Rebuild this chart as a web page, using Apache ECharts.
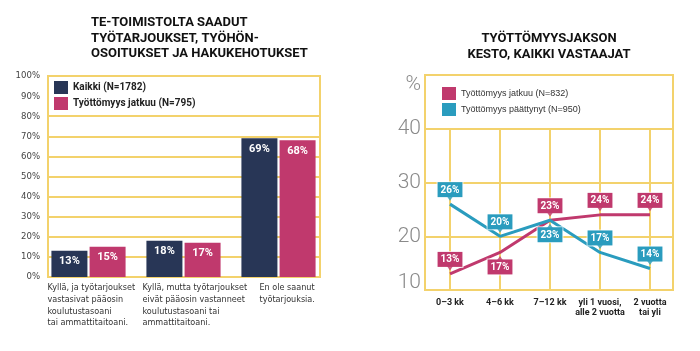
<!DOCTYPE html>
<html><head><meta charset="utf-8">
<script src="https://cdn.jsdelivr.net/npm/echarts@6/dist/echarts.min.js"></script>
<style>html,body{margin:0;padding:0;background:#fff}#c{width:700px;height:351px}</style>
</head><body><div id="c"></div>
<script>
// ---- data ----
const barCategories = [
  'Kyllä, ja työtarjoukset\nvastasivat pääosin\nkoulutustasoani\ntai ammattitaitoani.',
  'Kyllä, mutta työtarjoukset\neivät pääosin vastanneet\nkoulutustasoani tai\nammattitaitoani.',
  'En ole saanut\ntyötarjouksia.'
];
const kaikki = [13, 18, 69];
const jatkuuBar = [15, 17, 68];
const barSeriesNames = ['Kaikki (N=1782)', 'Työttömyys jatkuu (N=795)'];

const durationCats = ['0–3 kk', '4–6 kk', '7–12 kk', 'yli 1 vuosi,\nalle 2 vuotta', '2 vuotta\ntai yli'];
const jatkuuLine = [13, 17, 23, 24, 24];
const paattynytLine = [26, 20, 23, 17, 14];
const lineSeriesNames = ['Työttömyys jatkuu (N=832)', 'Työttömyys päättynyt (N=950)'];
const jatkuuLabelSide = ['top', 'bottom', 'top', 'top', 'top'];
const paattynytLabelSide = ['top', 'top', 'bottom', 'top', 'top'];

// ---- style ----
const NAVY = '#283656', PINK = '#c0396d', BLUE = '#2a9cbe', YEL = '#f3d26c';
const COND = "'DejaVu Sans Condensed', 'Liberation Sans', sans-serif";
const chart = echarts.init(document.getElementById('c'));

function pctLabel(color) {
  return {
    show: true, formatter: p => p.value + '%', color: '#fff', fontWeight: 'bold',
    fontSize: 10, fontFamily: 'Roboto', backgroundColor: color, padding: [3, 3, 2, 3],
    borderColor: 'rgba(255,255,255,0.7)', borderWidth: 1, distance: 7
  };
}
function lineData(vals, sides) {
  return vals.map((v, i) => ({ value: v, label: { position: sides[i] } }));
}
function pointerData(vals, sides) {
  return vals.map((v, i) => ({
    value: v,
    symbolRotate: sides[i] === 'top' ? 180 : 0,
    symbolOffset: [0, sides[i] === 'top' ? -6 : 6]
  }));
}
const leftGridSplit = [];
for (let i = 0; i <= 10; i++) leftGridSplit.push(i === 9 ? 'rgba(0,0,0,0)' : YEL);
const catTxt = { fontFamily: COND, fontSize: 9, lineHeight: 11.7, color: '#333' };

chart.setOption({
  animation: false,
  title: [
    { text: 'TE-TOIMISTOLTA SAADUT\nTYÖTARJOUKSET, TYÖHÖN-\nOSOITUKSET JA HAKUKEHOTUKSET', left: 91, top: 15, padding: 0,
      textStyle: { fontFamily: 'Roboto', fontWeight: 'bold', fontSize: 13, lineHeight: 15.5, color: '#111' } },
    { text: 'TYÖTTÖMYYSJAKSON\nKESTO, KAIKKI VASTAAJAT', left: 549, textAlign: 'center', top: 31, padding: 0,
      textStyle: { fontFamily: 'Roboto', fontWeight: 'bold', fontSize: 13, lineHeight: 15.5, color: '#111', align: 'center' } }
  ],
  legend: [
    { data: barSeriesNames, orient: 'vertical', left: 54, top: 81, itemWidth: 14, itemHeight: 13, itemGap: 3, icon: 'rect', padding: 0,
      textStyle: { fontFamily: 'Roboto', fontWeight: 'bold', fontSize: 10, color: '#222' } },
    { data: lineSeriesNames, orient: 'vertical', left: 442, top: 87, itemWidth: 14, itemHeight: 13, itemGap: 3, icon: 'rect', padding: 0,
      textStyle: { fontFamily: 'Liberation Sans', fontSize: 9, color: '#333' } }
  ],
  grid: [
    { left: 48, top: 76, width: 272, height: 201, show: true, borderColor: YEL, borderWidth: 2 },
    { left: 41, top: 76, width: 285, height: 201 },
    { left: 425, top: 75, width: 248, height: 215, show: true, borderColor: YEL, borderWidth: 2 },
    { left: 450, top: 129, width: 200, height: 161 }
  ],
  xAxis: [
    { gridIndex: 0, type: 'category', data: barCategories, show: false },
    { gridIndex: 1, type: 'category', data: barCategories,
      axisLine: { show: false }, axisTick: { show: false },
      axisLabel: { align: 'left', padding: [0, 0, 0, -41], margin: 5, interval: 0, ...catTxt,
        formatter: (v, i) => v.split('\n').map(l => `{${i === 2 ? 'c' : 'a'}|${l}}`).join('\n'),
        rich: { a: { ...catTxt }, c: { ...catTxt, padding: [0, 0, 0, 22] } } } },
    { gridIndex: 2, type: 'category', data: durationCats, show: false },
    { gridIndex: 3, type: 'category', data: durationCats, boundaryGap: false,
      axisLine: { show: false }, axisTick: { show: false },
      splitLine: { show: true, lineStyle: { color: YEL, width: 2 } },
      axisLabel: { interval: 0, margin: 8, fontFamily: 'Roboto', fontWeight: 'bold', fontSize: 9, lineHeight: 10, color: '#222' } }
  ],
  yAxis: [
    { gridIndex: 0, type: 'value', min: 0, max: 100, interval: 10,
      axisLine: { show: false }, axisTick: { show: false },
      splitLine: { lineStyle: { color: leftGridSplit, width: 2 } },
      axisLabel: { formatter: '{value}%', margin: 8, fontFamily: COND, fontSize: 9.5, color: '#444' } },
    { gridIndex: 1, type: 'value', min: 0, max: 100, show: false },
    { gridIndex: 2, type: 'value', min: 10, max: 50, interval: 10,
      axisLine: { show: false }, axisTick: { show: false },
      splitLine: { lineStyle: { color: YEL, width: 2 } },
      axisLabel: { formatter: v => v === 50 ? '{p|%}' : (v === 10 ? '{b|10}' : v), margin: 4,
        fontFamily: 'Roboto', fontWeight: 300, fontSize: 21, color: '#8a8a8a',
        rich: { p: { fontFamily: 'Roboto', fontWeight: 300, fontSize: 21, color: '#8a8a8a', padding: [20, 0, 0, 0] },
                b: { fontFamily: 'Roboto', fontWeight: 300, fontSize: 21, color: '#8a8a8a', padding: [0, 0, 14, 0] } } } },
    { gridIndex: 3, type: 'value', min: 10, max: 40, show: false }
  ],
  series: [
    { name: barSeriesNames[0], type: 'bar', xAxisIndex: 1, yAxisIndex: 1, data: kaikki, barWidth: 36, barGap: '6%',
      itemStyle: { color: NAVY },
      label: { show: true, position: 'insideTop', distance: 5, formatter: '{c}%', color: '#fff', fontWeight: 'bold', fontSize: 11, fontFamily: 'Roboto' } },
    { name: barSeriesNames[1], type: 'bar', xAxisIndex: 1, yAxisIndex: 1, data: jatkuuBar, barWidth: 36, barGap: '6%',
      itemStyle: { color: PINK },
      label: { show: true, position: 'insideTop', distance: 5, formatter: '{c}%', color: '#fff', fontWeight: 'bold', fontSize: 11, fontFamily: 'Roboto' } },
    { name: lineSeriesNames[0], type: 'line', xAxisIndex: 3, yAxisIndex: 3, data: lineData(jatkuuLine, jatkuuLabelSide),
      symbol: 'circle', symbolSize: 0, showSymbol: true, itemStyle: { color: PINK }, lineStyle: { color: PINK, width: 3 },
      label: pctLabel(PINK), z: 3 },
    { name: lineSeriesNames[1], type: 'line', xAxisIndex: 3, yAxisIndex: 3, data: lineData(paattynytLine, paattynytLabelSide),
      symbol: 'circle', symbolSize: 0, showSymbol: true, itemStyle: { color: BLUE }, lineStyle: { color: BLUE, width: 3 },
      label: pctLabel(BLUE), z: 3 },
    { type: 'scatter', xAxisIndex: 3, yAxisIndex: 3, data: pointerData(jatkuuLine, jatkuuLabelSide), symbol: 'triangle', symbolSize: [7, 5],
      itemStyle: { color: PINK }, silent: true, z: 4 },
    { type: 'scatter', xAxisIndex: 3, yAxisIndex: 3, data: pointerData(paattynytLine, paattynytLabelSide), symbol: 'triangle', symbolSize: [7, 5],
      itemStyle: { color: BLUE }, silent: true, z: 4 }
  ]
});
</script></body></html>
